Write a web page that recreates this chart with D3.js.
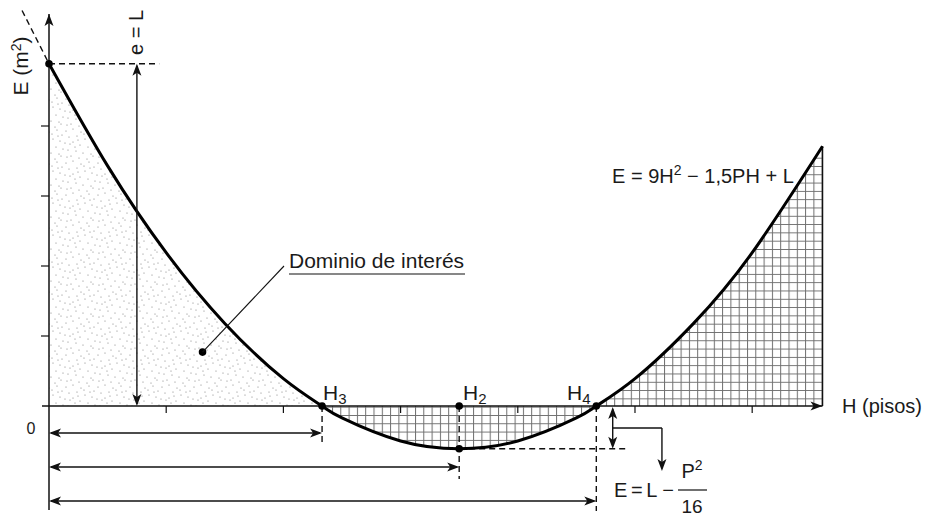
<!DOCTYPE html>
<meta charset="UTF-8">
<style>
    body { margin: 0; background: #fff; }
    text { font-family: "Liberation Sans", Arial, Helvetica, sans-serif; fill: #1a1a1a; }
</style>
<body>
<div id="chart"></div>
<script src="https://d3js.org/d3.v7.min.js"></script>
<script>

// curve: H (pisos) against E (tick units of m2)
var hVals = [0, 0.5, 1, 1.5, 2, 2.33, 2.5, 3, 3.5, 4, 4.5, 4.67, 5, 5.5, 6, 6.6];
var eVals = [4.89, 3.43, 2.19, 1.18, 0.39, 0, -0.17, -0.50, -0.61, -0.50, -0.17, 0, 0.39, 1.18, 2.19, 3.71];

var hTicks = [1, 2, 3, 4, 5, 6];
var eTicks = [1, 2, 3, 4];

// key points: roots H3, H4, vertex H2
var rootSubs = ["3", "2", "4"];
var rootH = [2.33, 3.5, 4.67];
var eL = 4.89, eMin = -0.61, hEnd = 6.6;
var domainDot = [1.31, 0.77];

var width = 932, height = 520;

var x = d3.scaleLinear().domain([0, hEnd]).range([49, 822.5]);
var y = d3.scaleLinear().domain([0, 1]).range([406, 336]);

var svg = d3.select("#chart").append("svg")
    .attr("width", width)
    .attr("height", height);

var defs = svg.append("defs");

// grid hatch
var grid = defs.append("pattern")
    .attr("id", "grid")
    .attr("patternUnits", "userSpaceOnUse")
    .attr("width", 8.3).attr("height", 8.3);
grid.append("rect").attr("width", 8.3).attr("height", 8.3).attr("fill", "#fff");
grid.append("path").attr("d", "M0.5,0V8.3M0,0.5H8.3")
    .attr("stroke", "#6e6e6e").attr("stroke-width", 1);

// stipple texture
var stip = defs.append("pattern")
    .attr("id", "stip")
    .attr("patternUnits", "userSpaceOnUse")
    .attr("width", 32).attr("height", 32);
[[2,3],[9,1],[17,4],[25,2],[30,7],[5,9],[13,8],[21,11],[28,13],[1,15],[9,14],[16,17],
 [24,19],[31,21],[4,22],[12,23],[19,25],[27,26],[7,28],[15,30],[23,31],[3,29],[20,6],[11,19],
 [29,28],[6,16],[14,12],[26,8]]
    .forEach(function(p) {
        stip.append("circle").attr("cx", p[0]).attr("cy", p[1]).attr("r", 0.6).attr("fill", "#7a7a7a");
    });

defs.append("clipPath").attr("id", "clipLeft")
    .append("rect").attr("x", x(0)).attr("y", 0).attr("width", x(rootH[0]) - x(0)).attr("height", height);
defs.append("clipPath").attr("id", "clipRight")
    .append("rect").attr("x", x(rootH[0])).attr("y", 0).attr("width", x(hEnd) - x(rootH[0])).attr("height", height);

var pts = hVals.map(function(h, i) { return [h, eVals[i]]; });

var area = d3.area()
    .x(function(d) { return x(d[0]); })
    .y0(y(0))
    .y1(function(d) { return y(d[1]); })
    .curve(d3.curveNatural);

svg.append("path").datum(pts).attr("d", area)
    .attr("fill", "url(#stip)").attr("clip-path", "url(#clipLeft)");
svg.append("path").datum(pts).attr("d", area)
    .attr("fill", "url(#grid)").attr("clip-path", "url(#clipRight)");

// right edge of hatched region
svg.append("line")
    .attr("x1", x(hEnd)).attr("x2", x(hEnd))
    .attr("y1", y(eVals[eVals.length - 1])).attr("y2", y(0))
    .attr("stroke", "#111").attr("stroke-width", 1.5);

function arrowHead(px, py, angle) {
    svg.append("path")
        .attr("d", "M0,0L-12,-4.5L-9,0L-12,4.5Z")
        .attr("transform", "translate(" + px + "," + py + ") rotate(" + angle + ")")
        .attr("fill", "#111");
}
function seg(x1, y1, x2, y2, dash, w) {
    return svg.append("line")
        .attr("x1", x1).attr("y1", y1).attr("x2", x2).attr("y2", y2)
        .attr("stroke", "#111").attr("stroke-width", w || 1.4)
        .attr("stroke-dasharray", dash ? "6,4" : null);
}

// axes
seg(42, y(0), x(hEnd), y(0), false, 1.5);
arrowHead(x(hEnd), y(0), 0);
seg(x(0), 510, x(0), 14, false, 1.5);
arrowHead(x(0), 14, -90);

svg.append("g").selectAll("line").data(hTicks).enter().append("line")
    .attr("x1", function(d) { return x(d); }).attr("x2", function(d) { return x(d); })
    .attr("y1", y(0)).attr("y2", y(0) + 7)
    .attr("stroke", "#111").attr("stroke-width", 1.2);
svg.append("g").selectAll("line").data(eTicks).enter().append("line")
    .attr("x1", x(0) - 8).attr("x2", x(0))
    .attr("y1", function(d) { return y(d); }).attr("y2", function(d) { return y(d); })
    .attr("stroke", "#111").attr("stroke-width", 1.2);

// dashed guides
seg(x(-0.23), y(5.65), x(0), y(eL), true);
seg(x(0), y(eL), x(0.94), y(eL), true);
seg(x(rootH[1]), y(eMin), x(4.92), y(eMin), true);
seg(x(rootH[0]), y(0), x(rootH[0]), 444, true);
seg(x(rootH[1]), y(0), x(rootH[1]), 479, true);
seg(x(rootH[2]), y(0), x(rootH[2]), 511, true);

// the curve
svg.append("path").datum(pts)
    .attr("d", d3.line().x(function(d) { return x(d[0]); }).y(function(d) { return y(d[1]); }).curve(d3.curveNatural))
    .attr("fill", "none").attr("stroke", "#000").attr("stroke-width", 3);

// e = L arrow
seg(x(0.75), y(eL) + 2, x(0.75), y(0) - 2);
arrowHead(x(0.75), y(eL), -90);
arrowHead(x(0.75), y(0), 90);

// bottom distance arrows to H3, H2, H4
var rowY = [433, 467, 501];
rootH.forEach(function(h, i) {
    seg(x(0) + 2, rowY[i], x(h) - 2, rowY[i]);
    arrowHead(x(0), rowY[i], 180);
    arrowHead(x(h), rowY[i], 0);
});

// depth arrow near H4 and leader to formula
seg(x(4.81), y(0) + 3, x(4.81), y(eMin) - 3);
arrowHead(x(4.81), y(0) + 1, -90);
arrowHead(x(4.81), y(eMin), 90);
seg(x(4.81), 428, x(5.23), 428);
seg(x(5.23), 428, x(5.23), 468);
arrowHead(x(5.23), 471, 90);

// dots
var dots = [[0, eL], [rootH[0], 0], [rootH[1], 0], [rootH[2], 0], [rootH[1], eMin], domainDot];
svg.append("g").selectAll("circle").data(dots).enter().append("circle")
    .attr("cx", function(d) { return x(d[0]); })
    .attr("cy", function(d) { return y(d[1]); })
    .attr("r", 3.8).attr("fill", "#000");

// domain leader
seg(x(domainDot[0]), y(domainDot[1]), 284, 266, false, 1.1);
svg.append("text").attr("x", 289).attr("y", 268).attr("font-size", 21).text("Dominio de interés");
seg(289, 274, 465, 274, false, 1.1);

// labels
var yl = svg.append("text").attr("transform", "translate(28,66) rotate(-90)")
    .attr("text-anchor", "middle").attr("font-size", 21);
yl.append("tspan").text("E (m");
yl.append("tspan").attr("font-size", 14).attr("dy", -7).text("2");
yl.append("tspan").attr("dy", 7).text(")");
svg.append("text").attr("transform", "translate(143,55) rotate(-90)")
    .attr("font-size", 20).text("e = L");
svg.append("text").attr("x", 842).attr("y", 413).attr("font-size", 20).text("H (pisos)");
svg.append("text").attr("x", 31).attr("y", 434).attr("text-anchor", "middle").attr("font-size", 16).text("0");

var labX = [323, 463, 567];
rootSubs.forEach(function(s, i) {
    var t = svg.append("text").attr("x", labX[i]).attr("y", 400).attr("font-size", 21);
    t.append("tspan").text("H");
    t.append("tspan").attr("font-size", 15).attr("dy", 4).text(s);
});

var f1 = svg.append("text").attr("x", 612).attr("y", 183).attr("font-size", 20);
f1.append("tspan").text("E = 9H");
f1.append("tspan").attr("font-size", 14).attr("dy", -8).text("2");
f1.append("tspan").attr("dy", 8).text(" − 1,5PH + L");

svg.append("text").attr("x", 614).attr("y", 497).attr("font-size", 20)
    .attr("word-spacing", -2).text("E = L");
svg.append("text").attr("x", 668).attr("y", 497).attr("text-anchor", "middle").attr("font-size", 20).text("−");
var f2 = svg.append("text").attr("x", 692).attr("y", 478).attr("text-anchor", "middle").attr("font-size", 20);
f2.append("tspan").text("P");
f2.append("tspan").attr("font-size", 14).attr("dy", -8).text("2");
seg(678, 490, 707, 490, false, 1.2);
svg.append("text").attr("x", 692).attr("y", 513).attr("text-anchor", "middle").attr("font-size", 19).text("16");

</script>
</body>
